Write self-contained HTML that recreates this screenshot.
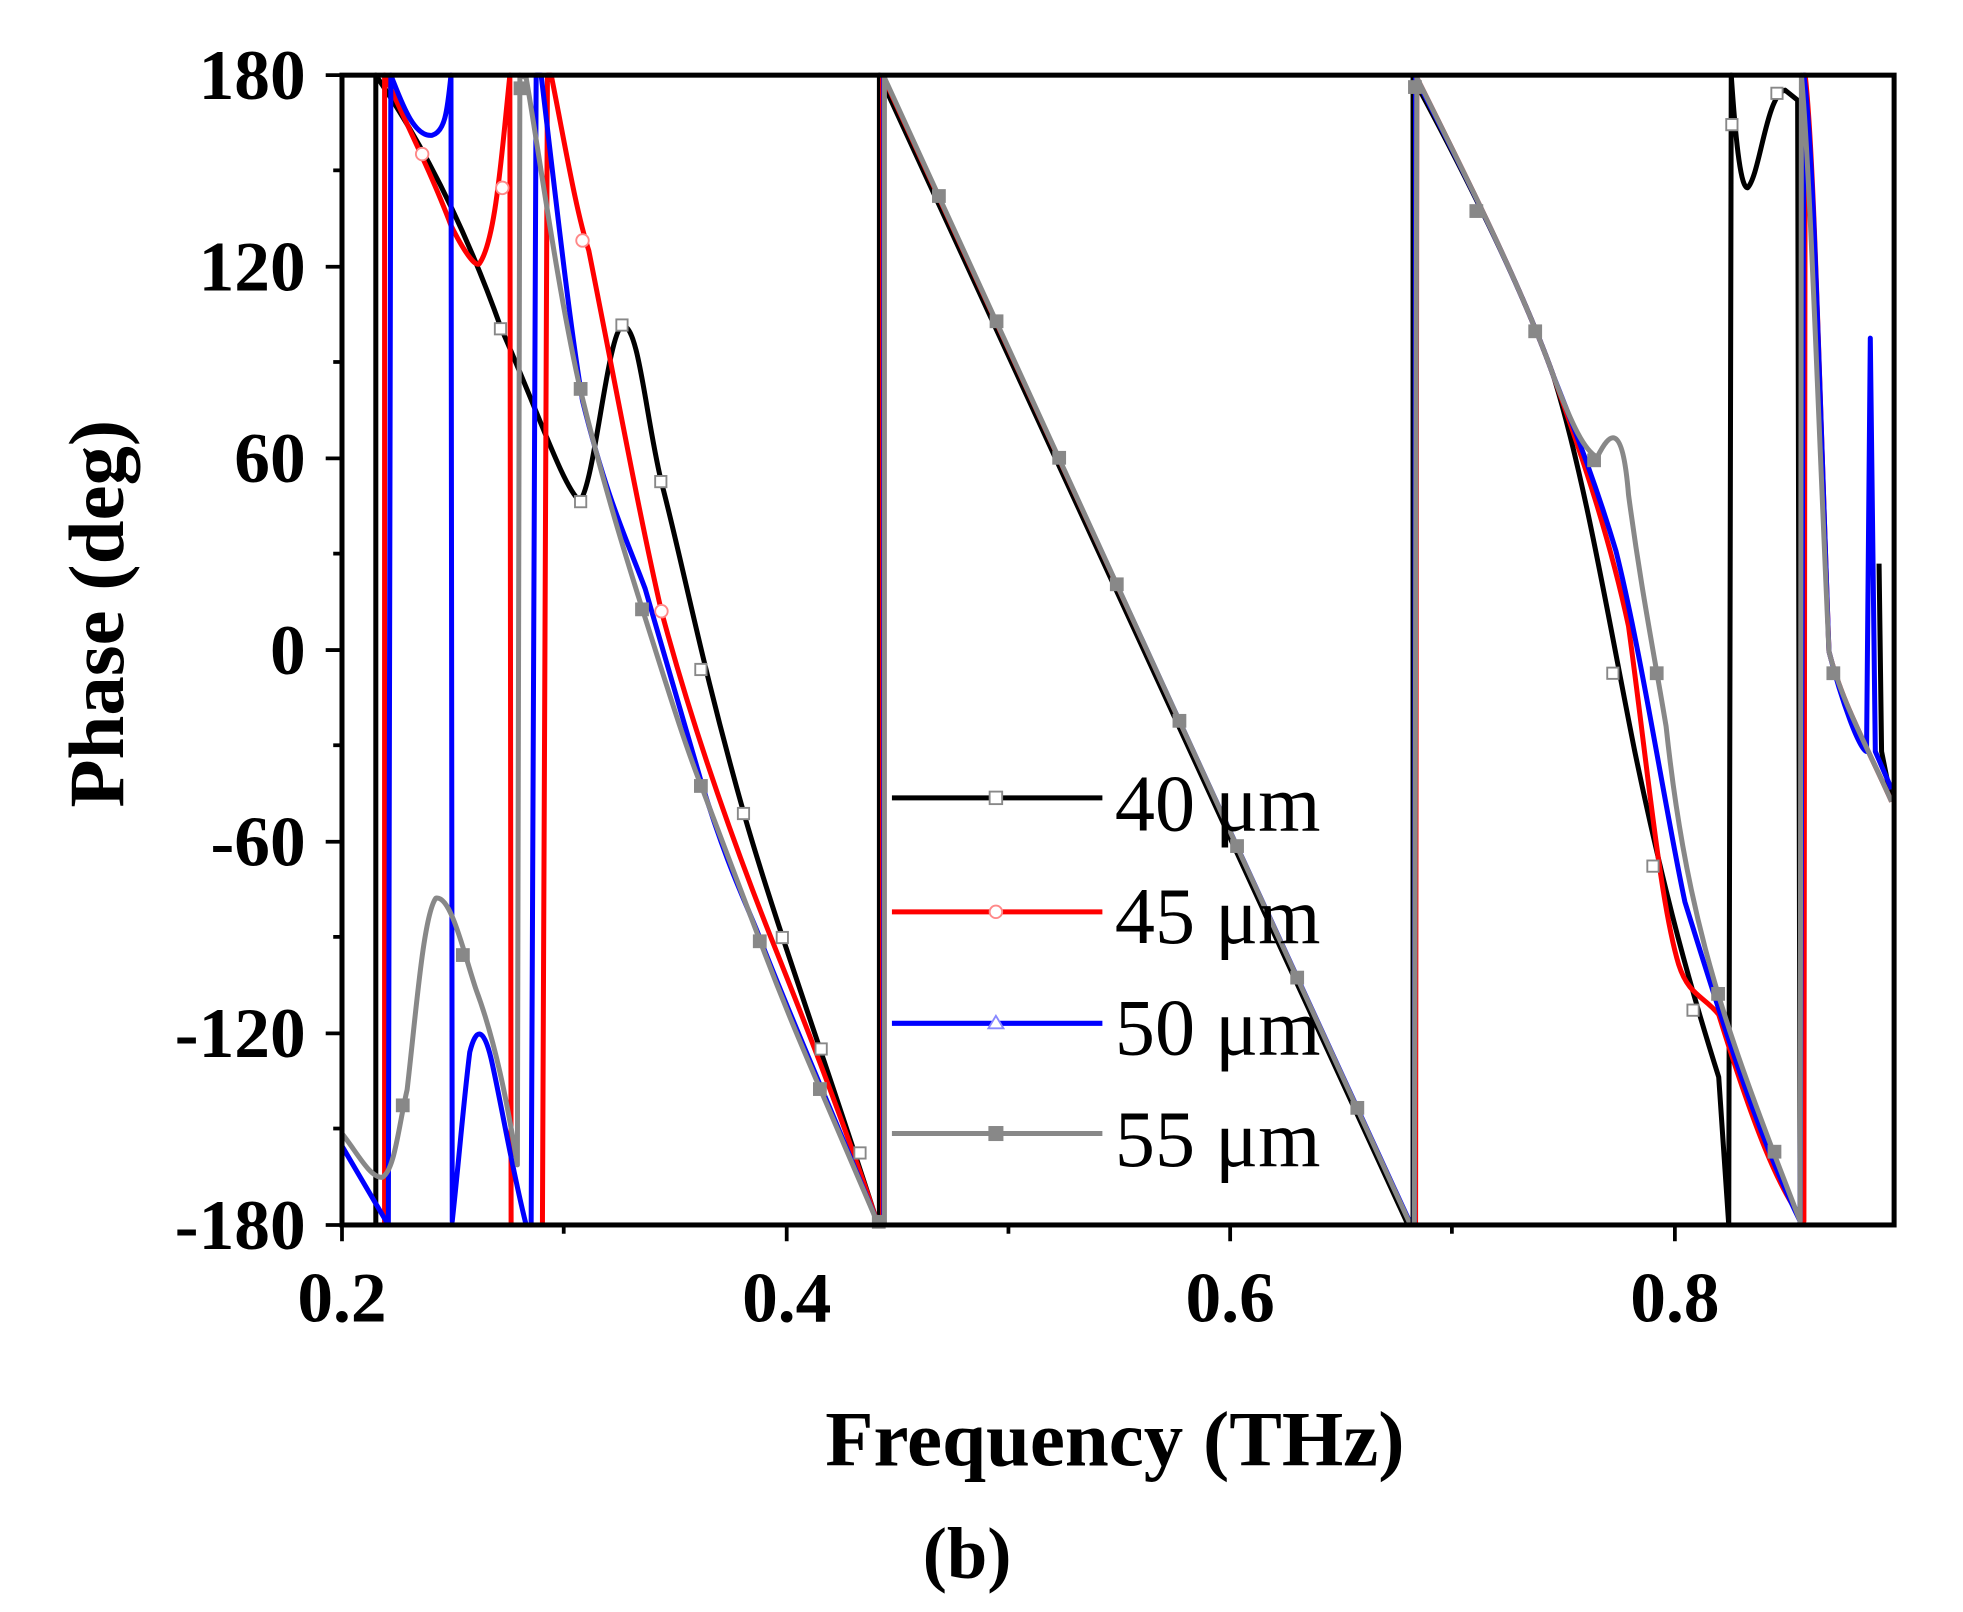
<!DOCTYPE html>
<html><head><style>html,body{margin:0;padding:0;background:#fff}svg{display:block}</style></head>
<body>
<svg width="1963" height="1612" viewBox="0 0 1567 1287" preserveAspectRatio="none" xmlns="http://www.w3.org/2000/svg" font-family="Liberation Serif, serif">
<g fill="none" stroke-width="4" stroke-linejoin="round">
<path d="M702,978 L702,60 L1124,978" stroke="#000"/>
<path d="M704,978 L704,60 L1126,978" stroke="#f00" stroke-width="3"/>
<path d="M705,978 L705,60 L1127,978" stroke="#00f" stroke-width="3"/>
<path d="M706,978 L706,62 L1126,978" stroke="#888"/>
<path d="M300,978 L300,60 C320,90 360,150 400,262 C430,330 450,390 463,400 C475,385 485,265 497,260 C510,260 515,330 528,385 C545,450 560,530 594,650 C620,740 660,850 700,975 M1128,978 L1128,62 C1170,140 1215,230 1240,300 C1265,380 1285,500 1305,600 C1330,720 1350,790 1372,860 L1380,978 L1382,60 C1386,120 1390,150 1395,150 C1405,140 1410,75 1425,72 L1435,80 L1437,978 M1500,450 L1502,600 L1510,640" stroke="#000"/>
<path d="M307,978 L307,60 C325,100 345,140 360,180 C370,200 380,215 383,210 C393,195 398,150 403,100 L407,60 L408,978 M433,978 L437,60 L440,60 C450,110 460,170 470,200 C490,300 510,410 528,488 C550,570 580,660 620,760 C660,860 685,930 700,975 M1130,978 L1131,62 C1170,140 1215,230 1240,300 C1265,370 1285,430 1300,500 C1315,610 1325,720 1340,770 C1348,795 1360,795 1372,810 C1400,900 1420,950 1440,975 L1441,60 C1448,120 1452,300 1460,520 C1470,560 1490,595 1510,640" stroke="#f00"/>
<path d="M273,915 L310,978 L312,60 C320,80 330,110 345,108 C355,105 357,90 360,60 L361,975 C366,930 370,880 375,840 C380,820 386,820 392,845 C400,880 408,930 420,978 L424,978 L428,60 L432,60 C445,170 455,260 465,320 C485,400 500,430 515,470 C535,540 550,590 560,625 C580,690 595,720 605,745 C630,810 657,870 700,975 M1129,978 L1130,62 C1170,140 1215,230 1240,300 C1260,350 1275,390 1290,440 C1310,520 1330,650 1345,720 C1370,800 1400,900 1437,975 L1440,60 C1448,120 1452,300 1460,520 C1470,560 1485,600 1490,600 L1493,270 L1497,600 L1510,630" stroke="#00f"/>
<path d="M273,905 C285,920 295,940 305,940 C315,935 318,900 325,870 C332,810 338,730 348,717 C360,715 370,760 380,790 C395,830 405,880 413,930 L415,60 L420,62 C430,120 445,230 463,310 C480,380 495,430 513,487 C530,540 545,590 560,628 C580,680 595,720 607,752 C625,800 640,835 655,870 C670,905 685,940 700,975 M1129,978 L1131,62 C1170,140 1215,230 1240,300 C1255,340 1265,360 1275,365 C1285,345 1295,335 1300,395 C1310,470 1320,520 1330,580 C1345,720 1370,800 1415,918 L1437,975 L1438,60 C1445,140 1450,300 1460,520 C1470,560 1490,595 1510,640" stroke="#888"/>
</g>
<g fill="#fff" stroke="#888" stroke-width="1.5">
<rect x="395" y="258" width="9" height="9"/><rect x="459" y="396" width="9" height="9"/><rect x="492" y="255" width="9" height="9"/><rect x="523" y="380" width="9" height="9"/><rect x="555" y="530" width="9" height="9"/><rect x="589" y="645" width="9" height="9"/><rect x="620" y="744" width="9" height="9"/><rect x="651" y="833" width="9" height="9"/><rect x="682" y="916" width="9" height="9"/>
<rect x="1283" y="533" width="9" height="9"/><rect x="1315" y="687" width="9" height="9"/><rect x="1347" y="802" width="9" height="9"/><rect x="1378" y="95" width="9" height="9"/><rect x="1414" y="70" width="9" height="9"/>
<circle cx="337" cy="123" r="5" stroke="#f88"/><circle cx="401" cy="150" r="5" stroke="#f88"/><circle cx="465" cy="192" r="5" stroke="#f88"/><circle cx="528" cy="488" r="5" stroke="#f88"/>
</g>
<g fill="#888"><rect x="316" y="877" width="11" height="11"/><rect x="364" y="757" width="11" height="11"/><rect x="410" y="65" width="11" height="11"/><rect x="458" y="305" width="11" height="11"/><rect x="507" y="481" width="11" height="11"/><rect x="554" y="622" width="11" height="11"/><rect x="601" y="746" width="11" height="11"/><rect x="649" y="864" width="11" height="11"/><rect x="696" y="970" width="11" height="11"/><rect x="744" y="151" width="11" height="11"/><rect x="790" y="251" width="11" height="11"/><rect x="840" y="360" width="11" height="11"/><rect x="886" y="461" width="11" height="11"/><rect x="936" y="570" width="11" height="11"/><rect x="982" y="670" width="11" height="11"/><rect x="1030" y="775" width="11" height="11"/><rect x="1078" y="879" width="11" height="11"/><rect x="1124" y="64" width="11" height="11"/><rect x="1173" y="163" width="11" height="11"/><rect x="1220" y="259" width="11" height="11"/><rect x="1267" y="362" width="11" height="11"/><rect x="1317" y="532" width="11" height="11"/><rect x="1366" y="788" width="11" height="11"/><rect x="1411" y="914" width="11" height="11"/><rect x="1458" y="532" width="11" height="11"/></g>
<g stroke-width="4">
<line x1="712" y1="637" x2="880" y2="637" stroke="#000"/><rect x="790" y="632" width="10" height="10" fill="#fff" stroke="#888" stroke-width="1.5"/>
<line x1="712" y1="728" x2="880" y2="728" stroke="#f00"/><circle cx="795" cy="728" r="5" fill="#fff" stroke="#f88" stroke-width="1.5"/>
<line x1="712" y1="817" x2="880" y2="817" stroke="#00f"/><polygon points="795,811 801,821 789,821" fill="#fff" stroke="#88f" stroke-width="1.5"/>
<line x1="712" y1="905" x2="880" y2="905" stroke="#888"/><rect x="789" y="899" width="12" height="12" fill="#888" stroke="none"/>
</g>
<g font-size="64" fill="#000">
<text x="890" y="663">40 μm</text><text x="890" y="753">45 μm</text><text x="890" y="842">50 μm</text><text x="890" y="931">55 μm</text>
</g>
<rect x="273" y="60" width="1239" height="918" fill="none" stroke="#000" stroke-width="4"/>
<g stroke="#000" stroke-width="3">
<line x1="260" y1="60" x2="273" y2="60"/><line x1="260" y1="213" x2="273" y2="213"/><line x1="260" y1="366" x2="273" y2="366"/><line x1="260" y1="519" x2="273" y2="519"/><line x1="260" y1="672" x2="273" y2="672"/><line x1="260" y1="825" x2="273" y2="825"/><line x1="260" y1="978" x2="273" y2="978"/>
<line x1="266" y1="136" x2="273" y2="136"/><line x1="266" y1="289" x2="273" y2="289"/><line x1="266" y1="442" x2="273" y2="442"/><line x1="266" y1="595" x2="273" y2="595"/><line x1="266" y1="748" x2="273" y2="748"/><line x1="266" y1="901" x2="273" y2="901"/>
<line x1="273" y1="978" x2="273" y2="991"/><line x1="628" y1="978" x2="628" y2="991"/><line x1="982" y1="978" x2="982" y2="991"/><line x1="1337" y1="978" x2="1337" y2="991"/>
<line x1="450" y1="978" x2="450" y2="985"/><line x1="805" y1="978" x2="805" y2="985"/><line x1="1159" y1="978" x2="1159" y2="985"/>
</g>
<g font-size="57" font-weight="bold" text-anchor="end" fill="#000">
<text x="244" y="79">180</text><text x="244" y="232">120</text><text x="244" y="385">60</text><text x="244" y="538">0</text><text x="244" y="691">-60</text><text x="244" y="844">-120</text><text x="244" y="997">-180</text>
</g>
<g font-size="57" font-weight="bold" text-anchor="middle" fill="#000">
<text x="273" y="1055">0.2</text><text x="628" y="1055">0.4</text><text x="982" y="1055">0.6</text><text x="1337" y="1055">0.8</text>
<text x="890" y="1170" font-size="63">Frequency (THz)</text>
<text x="0" y="0" font-size="63" transform="translate(98,490) rotate(-90)">Phase (deg)</text>
<text x="772" y="1260" font-size="58">(b)</text>
</g>
</svg>
</body></html>
